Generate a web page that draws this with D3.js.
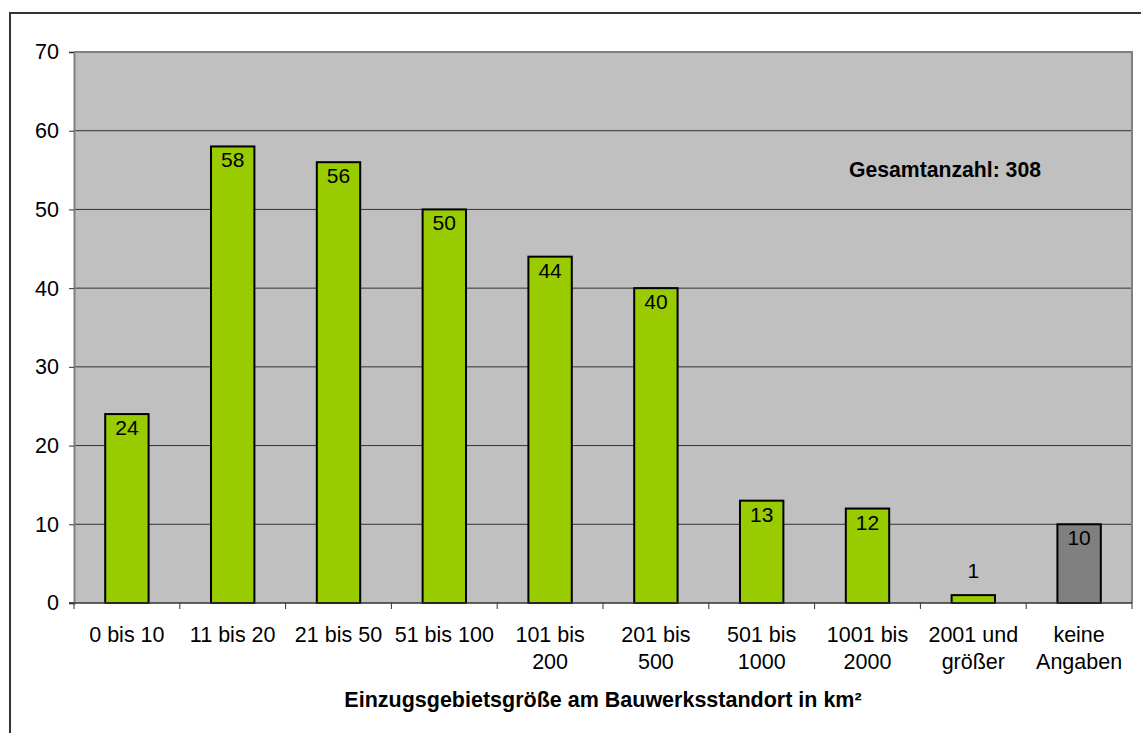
<!DOCTYPE html>
<html>
<head>
<meta charset="utf-8">
<script src="https://cdn.jsdelivr.net/npm/d3@7"></script>
<style>
    body { margin: 0; background: #fff; }
    #chart text { font-family: Arial, 'Liberation Sans', sans-serif; fill: #000; }
</style>
</head>
<body>
<div id="chart"></div>
<script>
// data
const categories = [
    ['0 bis 10'], ['11 bis 20'], ['21 bis 50'], ['51 bis 100'],
    ['101 bis', '200'], ['201 bis', '500'], ['501 bis', '1000'],
    ['1001 bis', '2000'], ['2001 und', 'größer'], ['keine', 'Angaben']
];
const counts = [24, 58, 56, 50, 44, 40, 13, 12, 1, 10];
const yTicks = [0, 10, 20, 30, 40, 50, 60, 70];
const axisTitle = 'Einzugsgebietsgröße am Bauwerksstandort in km²';
const totalLabel = 'Gesamtanzahl: 308';

document.addEventListener('DOMContentLoaded', function () {
    const W = 1141, H = 733;
    const margin = { top: 52, right: 9, bottom: 130, left: 74 };
    const width = W - margin.left - margin.right;
    const height = H - margin.top - margin.bottom;
    const fs = '21.5px';

    const svg = d3.select('#chart').append('svg')
        .attr('width', W)
        .attr('height', H);

    // outer frame (runs off the right/bottom edge in the original)
    svg.append('rect')
        .attr('x', 10).attr('y', 13)
        .attr('width', W).attr('height', H)
        .attr('fill', 'none')
        .attr('stroke', '#333')
        .attr('stroke-width', 2);

    const g = svg.append('g')
        .attr('transform', `translate(${margin.left},${margin.top})`);

    const x = d3.scaleBand()
        .domain(d3.range(categories.length))
        .range([0, width])
        .paddingInner(0.59)
        .paddingOuter(0.295);

    const y = d3.scaleLinear()
        .domain([0, 70])
        .range([height, 0]);

    // plot background
    g.append('rect')
        .attr('width', width).attr('height', height)
        .attr('fill', '#c0c0c0');

    // gridlines
    g.append('g')
        .selectAll('line')
        .data(yTicks.filter(d => d > 0 && d < 70))
        .join('line')
        .attr('x1', 0).attr('x2', width)
        .attr('y1', d => y(d)).attr('y2', d => y(d))
        .attr('stroke', '#333')
        .attr('stroke-width', 1);

    // plot border (top/right)
    g.append('path')
        .attr('d', `M0,0H${width}V${height}`)
        .attr('fill', 'none')
        .attr('stroke', '#808080')
        .attr('stroke-width', 2);

    // bars
    g.append('g')
        .selectAll('rect')
        .data(counts)
        .join('rect')
        .attr('x', (d, i) => x(i))
        .attr('y', d => y(d))
        .attr('width', x.bandwidth())
        .attr('height', d => y(0) - y(d))
        .attr('fill', (d, i) => i === counts.length - 1 ? '#808080' : '#99cc00')
        .attr('stroke', '#000')
        .attr('stroke-width', 2);

    // value labels
    g.append('g')
        .selectAll('text')
        .data(counts)
        .join('text')
        .attr('x', (d, i) => x(i) + x.bandwidth() / 2)
        .attr('y', d => d < 3 ? y(d) - 17 : y(d) + 21)
        .attr('text-anchor', 'middle')
        .style('font-size', '21px')
        .text(d => d);

    // y axis
    const yAxis = g.append('g')
        .call(d3.axisLeft(y).tickValues(yTicks).tickSize(5).tickPadding(10));
    yAxis.select('.domain').attr('stroke', '#808080').attr('stroke-width', 2);
    yAxis.selectAll('.tick line').attr('stroke', '#333');
    yAxis.selectAll('text').style('font-size', fs);

    // x axis: ticks at band boundaries
    const xAxis = g.append('g')
        .attr('transform', `translate(0,${height})`);
    xAxis.append('line')
        .attr('x1', -5).attr('x2', width)
        .attr('stroke', '#333').attr('stroke-width', 1.5);
    const step = x.step();
    xAxis.selectAll('.xtick')
        .data(d3.range(categories.length + 1))
        .join('line')
        .attr('class', 'xtick')
        .attr('x1', i => x(0) - x.paddingOuter() * step + i * step)
        .attr('x2', i => x(0) - x.paddingOuter() * step + i * step)
        .attr('y1', 0).attr('y2', 6)
        .attr('stroke', '#333');

    const xLabels = xAxis.selectAll('.xlabel')
        .data(categories)
        .join('text')
        .attr('class', 'xlabel')
        .attr('x', (d, i) => x(i) + x.bandwidth() / 2)
        .attr('y', 39)
        .attr('text-anchor', 'middle')
        .style('font-size', fs);
    xLabels.selectAll('tspan')
        .data(d => d)
        .join('tspan')
        .attr('x', function () { return d3.select(this.parentNode).attr('x'); })
        .attr('dy', (d, i) => i === 0 ? 0 : 27)
        .text(d => d);

    // axis title
    g.append('text')
        .attr('x', width / 2)
        .attr('y', height + 104)
        .attr('text-anchor', 'middle')
        .style('font-size', fs)
        .style('font-weight', 'bold')
        .text(axisTitle);

    // total annotation
    g.append('text')
        .attr('x', 775)
        .attr('y', 125)
        .style('font-size', '21.2px')
        .style('font-weight', 'bold')
        .text(totalLabel);
});
</script>
</body>
</html>
